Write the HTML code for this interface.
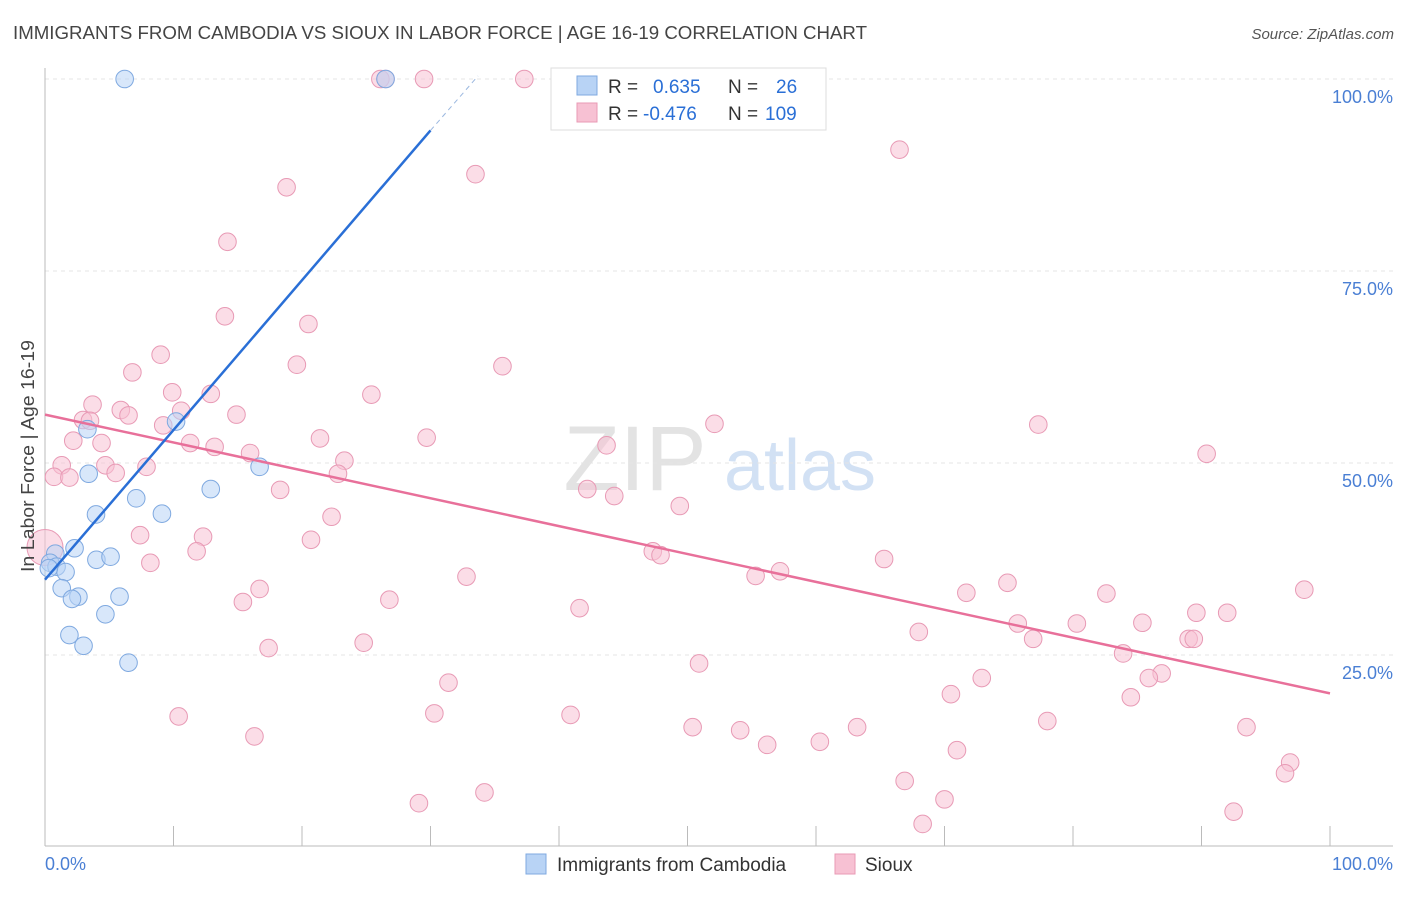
<!DOCTYPE html>
<html><head><meta charset="utf-8">
<style>
body{margin:0;background:#fff;font-family:"Liberation Sans",sans-serif;}
svg text{font-family:"Liberation Sans",sans-serif;}
</style></head>
<body>
<svg id="chart" width="1406" height="892" xmlns="http://www.w3.org/2000/svg">
<text x="13" y="39" font-size="18" fill="#444" textLength="854" lengthAdjust="spacingAndGlyphs">IMMIGRANTS FROM CAMBODIA VS SIOUX IN LABOR FORCE | AGE 16-19 CORRELATION CHART</text>
<text x="1394" y="39" font-size="15" fill="#555" text-anchor="end" font-style="italic">Source: ZipAtlas.com</text>
<g>
<text x="635" y="490" font-size="92" fill="#ddd" text-anchor="middle" font-family="Liberation Serif" opacity="0.8">ZIP</text>
<text x="800" y="490" font-size="72" fill="#c8daf2" text-anchor="middle" opacity="0.8">atlas</text>
</g>
<g id="grid"></g>
<g id="axes"></g>
<g id="marks"></g>
<text transform="translate(34,456) rotate(-90)" font-size="18" fill="#444" text-anchor="middle" textLength="232" lengthAdjust="spacingAndGlyphs">In Labor Force | Age 16-19</text>
<g>
<rect x="551" y="68" width="275" height="62" fill="#fff" stroke="#ddd"/>
<rect x="577" y="76" width="20" height="19" fill="#b8d3f5" stroke="#7fa9e0"/>
<rect x="577" y="103" width="20" height="19" fill="#f7c1d3" stroke="#e89ab5"/>
<text x="608" y="93" font-size="19" fill="#333">R =</text>
<text x="653" y="93" font-size="19" fill="#2a6fd6">0.635</text>
<text x="728" y="93" font-size="19" fill="#333">N =</text>
<text x="776" y="93" font-size="19" fill="#2a6fd6">26</text>
<text x="608" y="120" font-size="19" fill="#333">R =</text>
<text x="643" y="120" font-size="19" fill="#2a6fd6">-0.476</text>
<text x="728" y="120" font-size="19" fill="#333">N =</text>
<text x="765" y="120" font-size="19" fill="#2a6fd6">109</text>
</g>
<g>
<rect x="526" y="854" width="20" height="20" fill="#b8d3f5" stroke="#7fa9e0"/>
<text x="557" y="871" font-size="19" fill="#333">Immigrants from Cambodia</text>
<rect x="835" y="854" width="20" height="20" fill="#f7c1d3" stroke="#e89ab5"/>
<text x="865" y="871" font-size="19" fill="#333">Sioux</text>
</g>
</svg>
<script>
const yTicks=[25,50,75,100];
const yTickLabels=["25.0%","50.0%","75.0%","100.0%"];
const xTicks=[0,10,20,30,40,50,60,70,80,90,100];
const blueX=[6.2,26.5,0.8,0.4,0.9,1.6,1.3,2.3,2.6,2.1,1.9,3.0,4.0,5.1,4.7,5.8,6.5,3.97,3.4,3.3,7.1,9.1,10.2,12.9,16.7,0.3];
const blueY=[100,100,38.2,37.0,36.5,35.8,33.7,38.9,32.6,32.3,27.6,26.2,37.4,37.8,30.3,32.6,24.0,43.3,48.6,54.4,45.4,43.4,55.4,46.6,49.5,36.3];
const pinkX=[26.1,26.5,29.5,37.3,45.5,66.5,33.5,18.8,14.2,14.0,20.5,19.6,35.6,9.0,6.8,9.9,12.9,25.4,3.7,5.9,6.5,10.6,14.9,2.96,3.5,9.2,2.2,4.4,11.3,13.2,21.4,29.7,52.1,77.3,43.7,90.4,1.3,4.7,7.9,15.96,23.3,22.8,0.7,1.9,5.5,18.3,42.2,44.3,49.4,22.3,7.4,12.3,20.7,47.3,47.9,65.3,11.8,8.2,55.3,57.2,32.8,74.9,16.7,15.4,26.8,41.6,71.7,82.6,89.6,92.0,98.0,75.7,80.3,85.4,68.0,76.9,89.0,89.4,17.4,24.8,83.9,50.9,86.9,85.9,72.9,31.4,70.5,84.5,10.4,30.3,40.9,78.0,93.5,50.4,54.1,63.2,16.3,56.2,60.3,70.97,96.9,96.5,66.9,34.2,29.1,70.0,92.5,68.3,0];
const pinkY=[100,100,100,100,100,90.8,87.6,85.9,78.8,69.1,68.1,62.8,62.6,64.1,61.8,59.2,59.0,58.9,57.6,56.9,56.2,56.8,56.3,55.6,55.5,54.9,52.9,52.6,52.6,52.1,53.2,53.3,55.1,55.0,52.3,51.2,49.7,49.7,49.5,51.3,50.3,48.6,48.2,48.1,48.7,46.5,46.6,45.7,44.4,43.0,40.6,40.4,40.0,38.5,38.0,37.5,38.5,37.0,35.3,35.9,35.2,34.4,33.6,31.9,32.2,31.1,33.1,33.0,30.5,30.5,33.5,29.1,29.1,29.2,28.0,27.1,27.1,27.1,25.9,26.6,25.2,23.9,22.6,22.0,22.0,21.4,19.9,19.5,17.0,17.4,17.2,16.4,15.6,15.6,15.2,15.6,14.4,13.3,13.7,12.6,11.0,9.6,8.6,7.1,5.7,6.2,4.6,3.0,39];
const blueLine=[0,34.8,30,93.3];
const blueDash=[30,93.3,33.7,100.4];
const pinkLine=[0,56.3,100,20.0];
const X=v=>45+v*12.85, Y=v=>847-v*7.68;
const NS="http://www.w3.org/2000/svg";
function mk(p,t,a){const e=document.createElementNS(NS,t);for(const k in a)e.setAttribute(k,a[k]);p.appendChild(e);return e;}
const grid=document.getElementById('grid'),axes=document.getElementById('axes'),marks=document.getElementById('marks');
yTicks.forEach((t,i)=>{
 const l=mk(grid,'line',{x1:45,x2:1393,y1:Y(t),y2:Y(t),stroke:'#e4e4e4','stroke-dasharray':'4,4'});
 
 
 const tx=mk(axes,'text',{x:1393,y:Y(t)+24,'font-size':18,fill:'#4a7fd4','text-anchor':'end'});
 tx.textContent=yTickLabels[i];
 
 
});
const al=mk(axes,'line',{x1:45,x2:45,y1:68,y2:846,stroke:'#bbb'});


const bl=mk(axes,'line',{x1:45,x2:1393,y1:846,y2:846,stroke:'#bbb'});


xTicks.forEach(t=>{
 const l=mk(axes,'line',{x1:X(t),x2:X(t),y1:826,y2:846,stroke:'#bbb'});
 
 
});
const x0=mk(axes,'text',{x:45,y:870,'font-size':18,fill:'#4a7fd4'});x0.textContent='0.0%';


const x1=mk(axes,'text',{x:1393,y:870,'font-size':18,fill:'#4a7fd4','text-anchor':'end'});x1.textContent='100.0%';


pinkX.forEach((v,i)=>{
 const c=mk(marks,'circle',{cx:X(v),cy:Y(pinkY[i]),r:i==pinkX.length-1?18:8.8,fill:'#f7c1d3','fill-opacity':0.55,stroke:'#e89ab5','stroke-width':1});
 
 
});
blueX.forEach((v,i)=>{
 const c=mk(marks,'circle',{cx:X(v),cy:Y(blueY[i]),r:8.8,fill:'#b8d3f5','fill-opacity':0.55,stroke:'#7fa9e0','stroke-width':1});
 
 
});
const pl=mk(marks,'line',{x1:X(pinkLine[0]),y1:Y(pinkLine[1]),x2:X(pinkLine[2]),y2:Y(pinkLine[3]),stroke:'#e8709a','stroke-width':2.5});


const bln=mk(marks,'line',{x1:X(blueLine[0]),y1:Y(blueLine[1]),x2:X(blueLine[2]),y2:Y(blueLine[3]),stroke:'#2a6fd6','stroke-width':2.5});


const bd=mk(marks,'line',{x1:X(blueDash[0]),y1:Y(blueDash[1]),x2:X(blueDash[2]),y2:Y(blueDash[3]),stroke:'#9bb8e0','stroke-width':1,'stroke-dasharray':'5,4'});


</script>
</body></html>
